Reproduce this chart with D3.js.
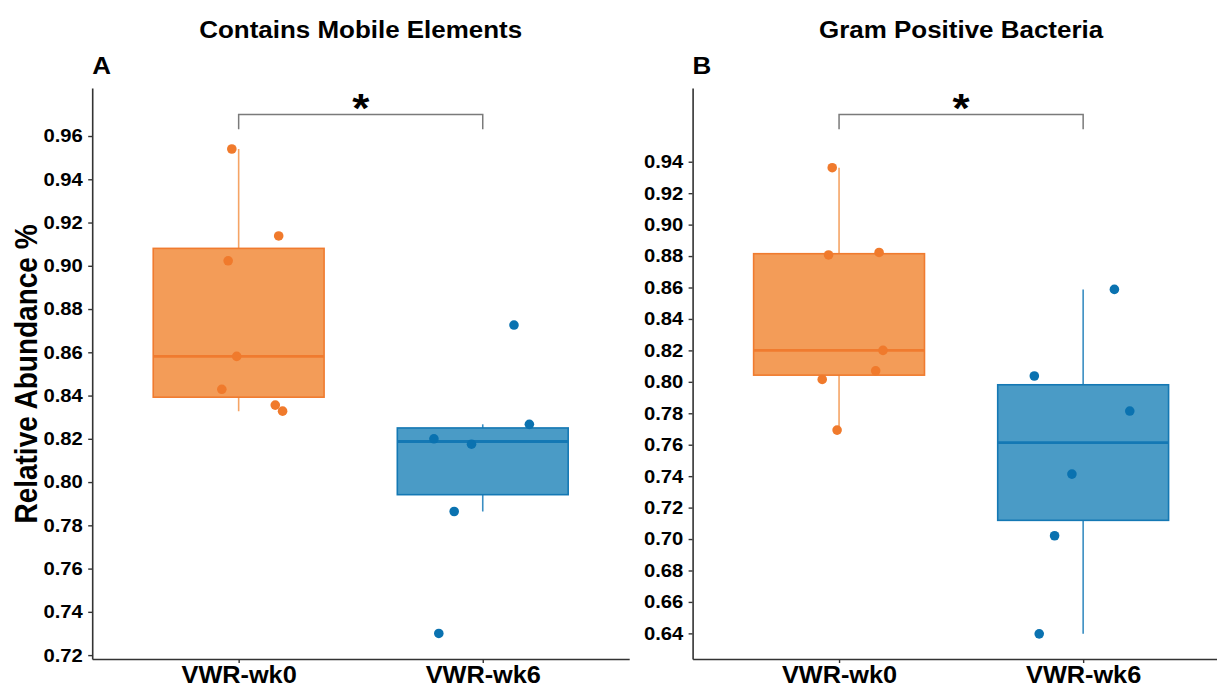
<!DOCTYPE html>
<html>
<head>
<meta charset="utf-8">
<script src="https://cdn.jsdelivr.net/npm/d3@7"></script>
<style>
  body { margin: 0; background: #fff; }
  svg text { font-family: "Liberation Sans", Arial, sans-serif; font-weight: bold; fill: #000; }
</style>
</head>
<body>
<div id="chart"></div>
<script>
// Groups and panel labels
var groups = ['VWR-wk0', 'VWR-wk6'];
var titles = ['Contains Mobile Elements', 'Gram Positive Bacteria'];
var panelTags = ['A', 'B'];

// Per-sample relative abundance (same sample order in both panels)
var mobileWk0 = [0.9540, 0.9138, 0.9023, 0.8581, 0.8429, 0.8356, 0.8328];
var mobileWk6 = [0.8726, 0.8267, 0.8200, 0.8175, 0.7864, 0.7300];
var gramWk0 = [0.9362, 0.8823, 0.8807, 0.7693, 0.8015, 0.8070, 0.8200];
var gramWk6 = [0.8588, 0.7814, 0.8037, 0.7413, 0.7021, 0.6397];

// Horizontal jitter of each sample, in category units
var jitterWk0 = [-0.028, 0.164, -0.043, -0.008, -0.069, 0.150, 0.180];
var jitterWk6 = [0.128, 0.191, -0.200, -0.046, -0.117, -0.180];

// Axis ticks and ranges
var mobileTicks = [0.72, 0.74, 0.76, 0.78, 0.80, 0.82, 0.84, 0.86, 0.88, 0.90, 0.92, 0.94, 0.96];
var gramTicks = [0.64, 0.66, 0.68, 0.70, 0.72, 0.74, 0.76, 0.78, 0.80, 0.82, 0.84, 0.86, 0.88, 0.90, 0.92, 0.94];
var mobileDomain = [0.7182, 0.9822];
var gramDomain = [0.6237, 0.9869];

// Significance bracket: [foot, top] and label
var mobileBracket = [0.9631, 0.9700];
var gramBracket = [0.9606, 0.9701];
var sigLabel = '*';

var panels = [
  {title: titles[0], tag: panelTags[0], values: [mobileWk0, mobileWk6], ticks: mobileTicks, domain: mobileDomain, bracket: mobileBracket},
  {title: titles[1], tag: panelTags[1], values: [gramWk0, gramWk6], ticks: gramTicks, domain: gramDomain, bracket: gramBracket}
];
var jitters = [jitterWk0, jitterWk6];

// Layout
var width = 1217, height = 687;
var stretch = 1.1; // source figure is slightly wider than tall
var plotTop = 88, plotBottom = 659, plotWidth = 537;
var panelLeft = [92.2, 692.6];

var colors = {
  point: ['#F07A2C', '#0A72B0'],
  fill: ['#F39C58', '#4A9BC6'],
  line: ['#F07B2F', '#1478B4'],
  whisker: ['#F5A465', '#3A8EC2']
};

var svg = d3.select('#chart').append('svg')
  .attr('width', width)
  .attr('height', height);

function stretchText(sel) {
  sel.attr('transform', 'scale(' + stretch + ',1)');
}

function boxStats(vals) {
  var s = vals.slice().sort(d3.ascending);
  var q1 = d3.quantile(s, 0.25), med = d3.quantile(s, 0.5), q3 = d3.quantile(s, 0.75);
  var iqr = q3 - q1;
  var lo = d3.min(s.filter(function(v) { return v >= q1 - 1.5 * iqr; }));
  var hi = d3.max(s.filter(function(v) { return v <= q3 + 1.5 * iqr; }));
  return {q1: q1, med: med, q3: q3, lo: lo, hi: hi};
}

panels.forEach(function(p, pi) {
  var x0 = panelLeft[pi];
  var x = d3.scalePoint().domain(groups).range([x0, x0 + plotWidth]).padding(0.6);
  var y = d3.scaleLinear().domain(p.domain).range([plotBottom, plotTop]);
  var boxW = x.step() * 0.7;
  var g = svg.append('g');

  // Boxes
  groups.forEach(function(grp, gi) {
    var st = boxStats(p.values[gi]);
    var cx = x(grp);
    g.append('line')
      .attr('x1', cx).attr('x2', cx)
      .attr('y1', y(st.hi)).attr('y2', y(st.lo))
      .attr('stroke', colors.whisker[gi])
      .attr('stroke-width', 1.6);
    g.append('rect')
      .attr('x', cx - boxW / 2)
      .attr('y', y(st.q3))
      .attr('width', boxW)
      .attr('height', y(st.q1) - y(st.q3))
      .attr('fill', colors.fill[gi])
      .attr('stroke', colors.line[gi])
      .attr('stroke-width', 1.6);
    g.append('line')
      .attr('x1', cx - boxW / 2).attr('x2', cx + boxW / 2)
      .attr('y1', y(st.med)).attr('y2', y(st.med))
      .attr('stroke', colors.line[gi])
      .attr('stroke-width', 2.8);
  });

  // Jittered points
  groups.forEach(function(grp, gi) {
    g.selectAll('circle.g' + gi)
      .data(p.values[gi])
      .enter().append('circle')
      .attr('class', 'g' + gi)
      .attr('cx', function(d, i) { return x(grp) + jitters[gi][i] * x.step(); })
      .attr('cy', function(d) { return y(d); })
      .attr('r', 4.8)
      .attr('fill', colors.point[gi]);
  });

  // Axes
  var yAxis = d3.axisLeft(y).tickValues(p.ticks).tickFormat(d3.format('.2f'))
    .tickSize(4).tickSizeOuter(0).tickPadding(4.5);
  var xAxis = d3.axisBottom(x).tickSize(4).tickSizeOuter(0).tickPadding(3.5);

  var ya = g.append('g')
    .attr('transform', 'translate(' + x0 + ',0)')
    .call(yAxis);
  var xa = g.append('g')
    .attr('transform', 'translate(0,' + plotBottom + ')')
    .call(xAxis);
  [ya, xa].forEach(function(a) {
    a.select('.domain').attr('stroke', '#333').attr('stroke-width', 1.6);
    a.selectAll('.tick line').attr('stroke', '#333').attr('stroke-width', 1.4);
  });
  ya.selectAll('.tick text')
    .style('font-size', '18.4px')
    .attr('fill', '#111')
    .call(stretchText);
  xa.selectAll('.tick text')
    .style('font-size', '23px')
    .attr('fill', '#111')
    .call(stretchText);

  // Significance bracket
  var bx1 = x(groups[0]), bx2 = x(groups[1]);
  g.append('path')
    .attr('d', d3.line()([[bx1, y(p.bracket[0])], [bx1, y(p.bracket[1])], [bx2, y(p.bracket[1])], [bx2, y(p.bracket[0])]]))
    .attr('fill', 'none')
    .attr('stroke', '#7a7a7a')
    .attr('stroke-width', 1.5);
  g.append('text')
    .attr('transform', 'translate(' + ((bx1 + bx2) / 2) + ',' + (y(p.bracket[1]) + 8) + ') scale(' + stretch + ',1)')
    .attr('text-anchor', 'middle')
    .style('font-size', '40px')
    .text(sigLabel);

  // Title and tag
  g.append('text')
    .attr('transform', 'translate(' + (x0 + plotWidth / 2) + ',37.5) scale(' + stretch + ',1)')
    .attr('text-anchor', 'middle')
    .style('font-size', '23.6px')
    .text(p.title);
  g.append('text')
    .attr('transform', 'translate(' + x0 + ',73.5) scale(' + stretch + ',1)')
    .style('font-size', '23.6px')
    .text(p.tag);
});

// Shared y-axis title
svg.append('text')
  .attr('transform', 'translate(37,374) scale(' + stretch + ',1) rotate(-90)')
  .attr('text-anchor', 'middle')
  .style('font-size', '28px')
  .text('Relative Abundance %');
</script>
</body>
</html>
